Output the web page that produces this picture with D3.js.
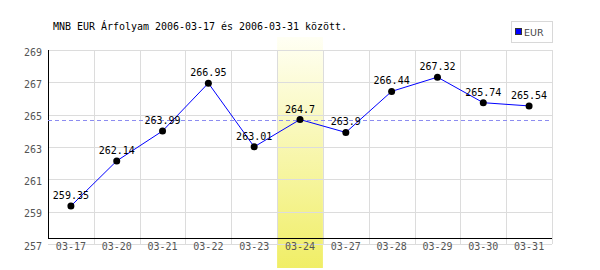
<!DOCTYPE html>
<html><head><meta charset="utf-8">
<script src="https://cdn.jsdelivr.net/npm/d3@7"></script>
<style>body{margin:0;background:#fff}svg{display:block}</style>
</head><body>
<svg id="c" width="600" height="270"></svg>
<script>
const categories = ["03-17","03-20","03-21","03-22","03-23","03-24","03-27","03-28","03-29","03-30","03-31"];
const values = [259.35,262.14,263.99,266.95,263.01,264.7,263.9,266.44,267.32,265.74,265.54];
const valueLabels = ["259.35","262.14","263.99","266.95","263.01","264.7","263.9","266.44","267.32","265.74","265.54"];
const yTicks = [257,259,261,263,265,267,269];
const highlight = "03-24";
const refValue = 264.7;
const title = "MNB EUR Árfolyam 2006-03-17 és 2006-03-31 között.";
const seriesName = "EUR";

const svg = d3.select("#c");
const L = 48, R = 552, T = 50, B = 244;
const x = d3.scaleBand().domain(categories).range([L, R]).padding(0);
const y = d3.scaleLinear().domain([257, 269]).range([B, T]);

// highlight band
const defs = svg.append("defs");
const g = defs.append("linearGradient").attr("id","hl").attr("x1",0).attr("y1",0).attr("x2",0).attr("y2",1);
g.append("stop").attr("offset","0%").attr("stop-color","#fffff4");
g.append("stop").attr("offset","100%").attr("stop-color","#f0ee66");
svg.append("rect").attr("x", x(highlight)).attr("y", 37).attr("width", x.bandwidth()).attr("height", 268-37).attr("fill","url(#hl)");

// grid
svg.append("g").selectAll("line").data(yTicks).join("line")
  .attr("x1", L).attr("x2", R).attr("y1", d=>Math.round(y(d))+0.5).attr("y2", d=>Math.round(y(d))+0.5)
  .attr("stroke","#dcdcdc").attr("stroke-width",1);
const vb = categories.map(c=>x(c)).concat([R]).slice(1);
svg.append("g").selectAll("line").data(vb).join("line")
  .attr("x1", d=>Math.round(d)+0.5).attr("x2", d=>Math.round(d)+0.5).attr("y1", T).attr("y2", B)
  .attr("stroke","#dcdcdc").attr("stroke-width",1);

// axes lines
svg.append("line").attr("x1", L+0.5).attr("x2", L+0.5).attr("y1", T).attr("y2", B-5.5).attr("stroke","#000");
svg.append("line").attr("x1", L).attr("x2", R).attr("y1", B-5.5).attr("y2", B-5.5).attr("stroke","#000");

// y labels
const yAxis = d3.axisLeft(y).tickValues(yTicks).tickSize(0).tickPadding(6);
const ya = svg.append("g").attr("transform",`translate(${L},0)`).call(yAxis);
ya.select(".domain").remove();
ya.selectAll("text").attr("font-family","DejaVu Sans Mono, monospace").attr("font-size","10px").attr("fill","#555").attr("dy","0.5em");

// x labels
const xAxis = d3.axisBottom(x).tickSize(0).tickPadding(0);
const xa = svg.append("g").attr("transform",`translate(0,${B})`).call(xAxis);
xa.select(".domain").remove();
xa.selectAll("text").attr("font-family","DejaVu Sans Mono, monospace").attr("font-size","10px").attr("fill","#555").attr("dy","0.55em");

// reference dashed line
svg.append("line").attr("x1", L).attr("x2", R).attr("y1", Math.round(y(refValue))+0.5).attr("y2", Math.round(y(refValue))+0.5)
  .attr("stroke","#8c8cf0").attr("stroke-dasharray","4,3");

// series line
const cx = d => x(d) + x.bandwidth()/2;
svg.append("path").datum(values)
  .attr("d", d3.line().x((d,i)=>cx(categories[i])).y(d=>y(d)))
  .attr("fill","none").attr("stroke","#0000ff").attr("stroke-width",1);
svg.append("g").selectAll("circle").data(values).join("circle")
  .attr("cx",(d,i)=>cx(categories[i])).attr("cy",d=>y(d)).attr("r",3.5).attr("fill","#000");
svg.append("g").selectAll("text").data(values).join("text")
  .attr("x",(d,i)=>cx(categories[i])).attr("y",d=>y(d)-7)
  .attr("text-anchor","middle").attr("font-family","DejaVu Sans Mono, monospace").attr("font-size","10px").attr("fill","#000")
  .text((d,i)=>valueLabels[i]);

// title
svg.append("text").attr("x",53).attr("y",29.5).attr("font-family","DejaVu Sans Mono, monospace").attr("font-size","10px")
  .attr("textLength",294).attr("lengthAdjust","spacingAndGlyphs").attr("fill","#000").text(title);

// legend
svg.append("rect").attr("x",511.5).attr("y",21.5).attr("width",41).attr("height",21).attr("fill","#fff").attr("stroke","#d8d8d8");
svg.append("rect").attr("x",515.5).attr("y",28.5).attr("width",6).attr("height",6).attr("fill","#0000ff").attr("stroke","#333");
svg.append("text").attr("x",524).attr("y",35.5).attr("font-family","DejaVu Sans, sans-serif").attr("font-size","9.5px").attr("fill","#444").text(seriesName);
</script>
</body></html>
